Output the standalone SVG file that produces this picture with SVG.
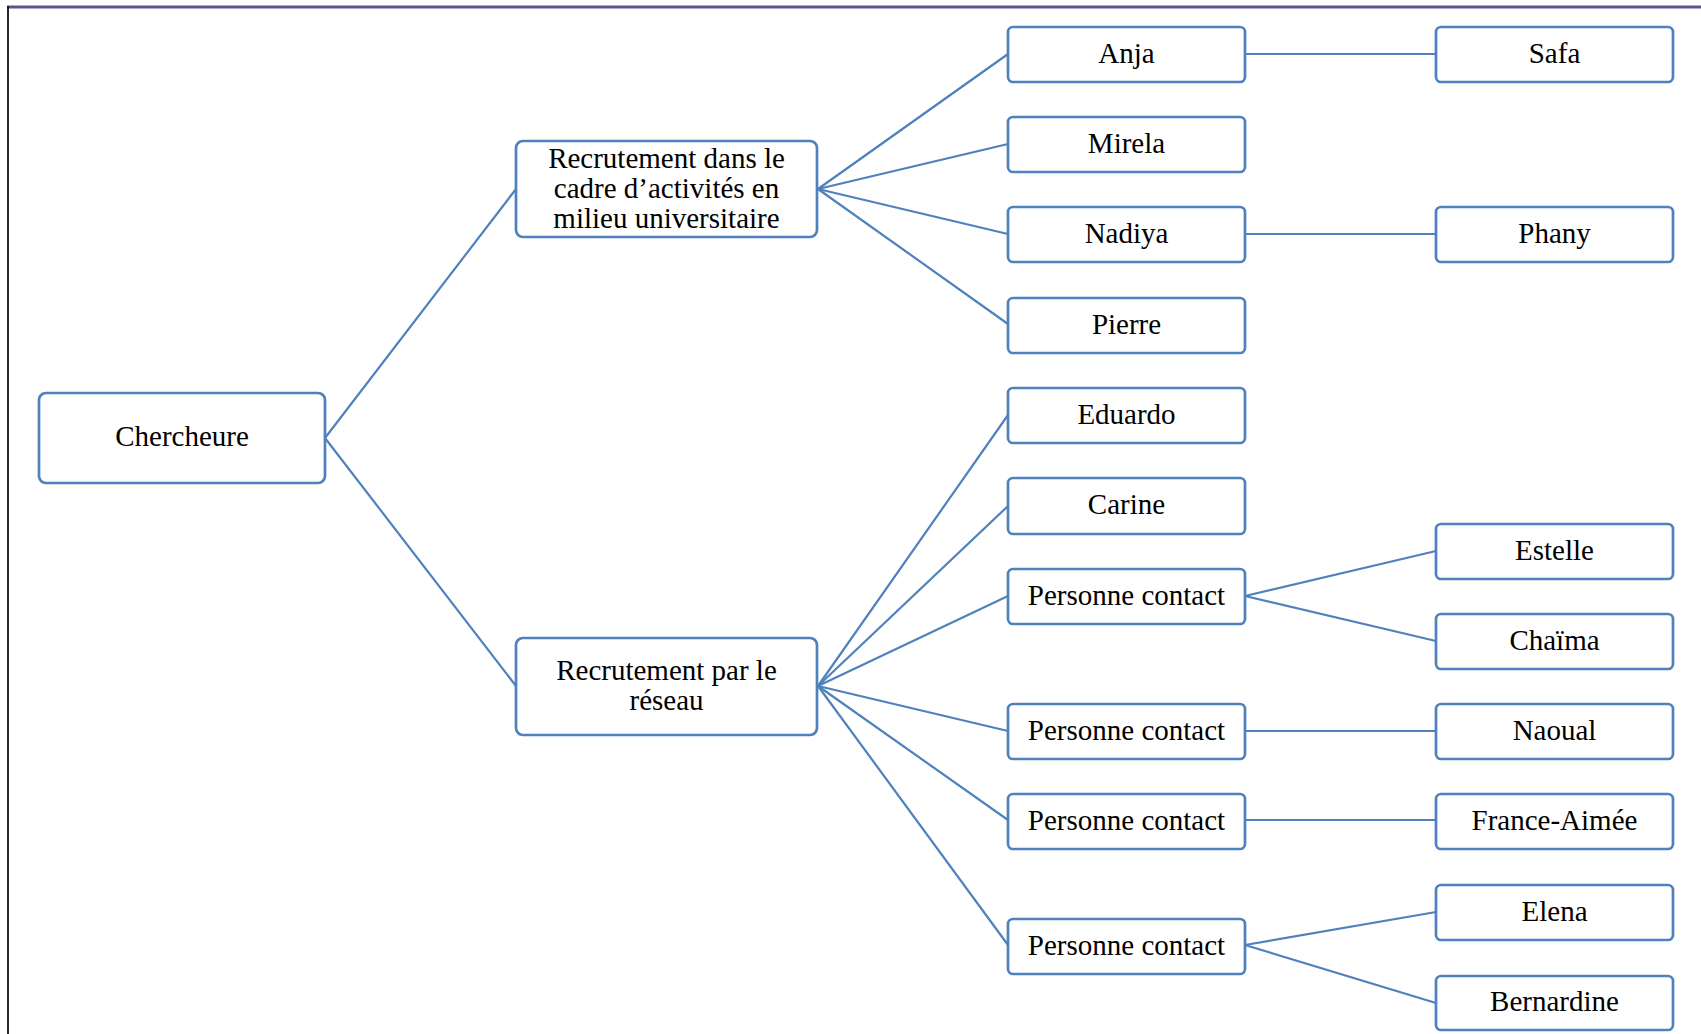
<svg xmlns="http://www.w3.org/2000/svg" width="1701" height="1034" viewBox="0 0 1701 1034">
<style>
.n rect{fill:#fff;stroke:#4f81bd;stroke-width:2.7}
.n text{font-family:"Liberation Serif","Times New Roman",serif;font-size:29px;fill:#000;text-anchor:middle}
#connectors line{stroke:#4f81bd;stroke-width:2.2;fill:none}
</style>
<rect x="0" y="0" width="1701" height="1034" fill="#fff"/>
<line x1="7" y1="7" x2="1701" y2="7" stroke="#56568a" stroke-width="3"/>
<line x1="8" y1="6" x2="8" y2="1034" stroke="#111" stroke-width="1.8"/>
<g id="connectors">
<line x1="325" y1="438" x2="516" y2="189"/>
<line x1="325" y1="438" x2="516" y2="686"/>
<line x1="818" y1="189" x2="1008" y2="54"/>
<line x1="818" y1="189" x2="1008" y2="144"/>
<line x1="818" y1="189" x2="1008" y2="234"/>
<line x1="818" y1="189" x2="1008" y2="324"/>
<line x1="1245" y1="54" x2="1436" y2="54"/>
<line x1="1245" y1="234" x2="1436" y2="234"/>
<line x1="818" y1="686" x2="1008" y2="415"/>
<line x1="818" y1="686" x2="1008" y2="506"/>
<line x1="818" y1="686" x2="1008" y2="596"/>
<line x1="818" y1="686" x2="1008" y2="731"/>
<line x1="818" y1="686" x2="1008" y2="820"/>
<line x1="818" y1="686" x2="1008" y2="945"/>
<line x1="1245" y1="596" x2="1436" y2="551"/>
<line x1="1245" y1="596" x2="1436" y2="641"/>
<line x1="1245" y1="731" x2="1436" y2="731"/>
<line x1="1245" y1="820" x2="1436" y2="820"/>
<line x1="1245" y1="945" x2="1436" y2="912"/>
<line x1="1245" y1="945" x2="1436" y2="1003"/>
</g>
<g id="chercheure" class="n"><rect x="39" y="393" width="286" height="90" rx="7"/><text x="182" y="446">Chercheure</text></g>
<g id="recrutement-universitaire" class="n"><rect x="516" y="141" width="301" height="96" rx="7"/><text x="666.5" y="168">Recrutement dans le</text><text x="666.5" y="198">cadre d’activités en</text><text x="666.5" y="228">milieu universitaire</text></g>
<g id="recrutement-reseau" class="n"><rect x="516" y="638" width="301" height="97" rx="7"/><text x="666.5" y="680">Recrutement par le</text><text x="666.5" y="710">réseau</text></g>
<g id="anja" class="n"><rect x="1008" y="27" width="237" height="55" rx="5"/><text x="1126.5" y="63">Anja</text></g>
<g id="mirela" class="n"><rect x="1008" y="117" width="237" height="55" rx="5"/><text x="1126.5" y="153">Mirela</text></g>
<g id="nadiya" class="n"><rect x="1008" y="207" width="237" height="55" rx="5"/><text x="1126.5" y="243">Nadiya</text></g>
<g id="pierre" class="n"><rect x="1008" y="298" width="237" height="55" rx="5"/><text x="1126.5" y="334">Pierre</text></g>
<g id="eduardo" class="n"><rect x="1008" y="388" width="237" height="55" rx="5"/><text x="1126.5" y="424">Eduardo</text></g>
<g id="carine" class="n"><rect x="1008" y="478" width="237" height="56" rx="5"/><text x="1126.5" y="514">Carine</text></g>
<g id="contact1" class="n"><rect x="1008" y="569" width="237" height="55" rx="5"/><text x="1126.5" y="605">Personne contact</text></g>
<g id="contact2" class="n"><rect x="1008" y="704" width="237" height="55" rx="5"/><text x="1126.5" y="740">Personne contact</text></g>
<g id="contact3" class="n"><rect x="1008" y="794" width="237" height="55" rx="5"/><text x="1126.5" y="830">Personne contact</text></g>
<g id="contact4" class="n"><rect x="1008" y="919" width="237" height="55" rx="5"/><text x="1126.5" y="955">Personne contact</text></g>
<g id="safa" class="n"><rect x="1436" y="27" width="237" height="55" rx="5"/><text x="1554.5" y="63">Safa</text></g>
<g id="phany" class="n"><rect x="1436" y="207" width="237" height="55" rx="5"/><text x="1554.5" y="243">Phany</text></g>
<g id="estelle" class="n"><rect x="1436" y="524" width="237" height="55" rx="5"/><text x="1554.5" y="560">Estelle</text></g>
<g id="chaima" class="n"><rect x="1436" y="614" width="237" height="55" rx="5"/><text x="1554.5" y="650">Chaïma</text></g>
<g id="naoual" class="n"><rect x="1436" y="704" width="237" height="55" rx="5"/><text x="1554.5" y="740">Naoual</text></g>
<g id="france-aimee" class="n"><rect x="1436" y="794" width="237" height="55" rx="5"/><text x="1554.5" y="830">France-Aimée</text></g>
<g id="elena" class="n"><rect x="1436" y="885" width="237" height="55" rx="5"/><text x="1554.5" y="921">Elena</text></g>
<g id="bernardine" class="n"><rect x="1436" y="976" width="237" height="54" rx="5"/><text x="1554.5" y="1011">Bernardine</text></g>
</svg>
